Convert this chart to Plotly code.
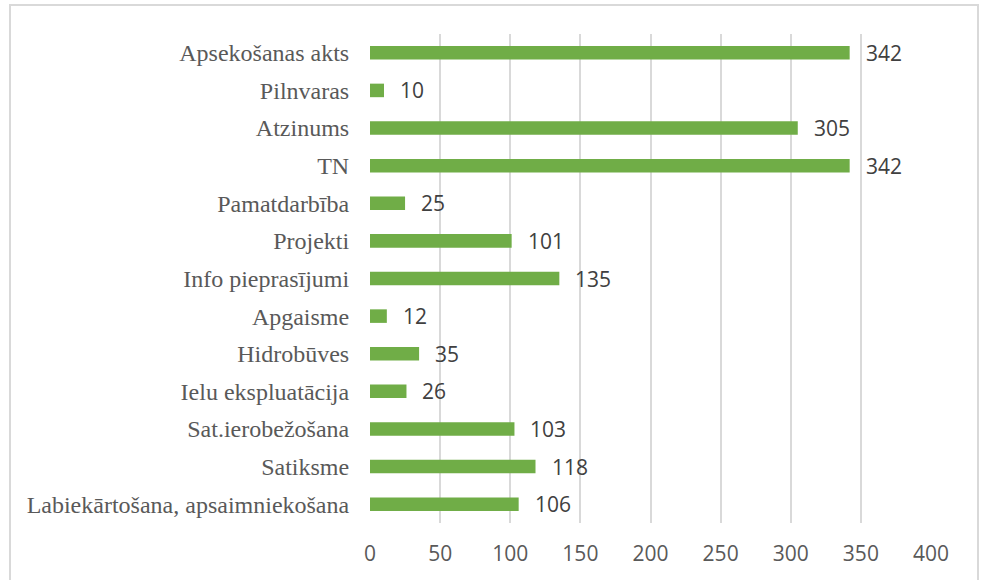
import plotly.graph_objects as go

categories = ["Apsekošanas akts", "Pilnvaras", "Atzinums", "TN", "Pamatdarbība",
              "Projekti", "Info pieprasījumi", "Apgaisme", "Hidrobūves",
              "Ielu ekspluatācija", "Sat.ierobežošana", "Satiksme",
              "Labiekārtošana, apsaimniekošana"]
values = [342, 10, 305, 342, 25, 101, 135, 12, 35, 26, 103, 118, 106]
tick_values = [0, 50, 100, 150, 200, 250, 300, 350, 400]

fig = go.Figure()
fig.add_trace(go.Bar(
    x=values, y=categories, orientation="h",
    marker=dict(color="#70AD47", line=dict(width=0)),
    width=0.36, hoverinfo="x+y",
))

for c, v in zip(categories, values):
    fig.add_annotation(x=v, y=c, text=str(v), showarrow=False,
                       xanchor="left", xshift=14,
                       font=dict(family="Open Sans", size=21, color="#404040"))

fig.update_layout(
    width=986, height=580,
    margin=dict(l=370, r=55, t=34, b=57, autoexpand=False),
    paper_bgcolor="white", plot_bgcolor="white",
    showlegend=False,
    bargap=0.64,
)
fig.update_xaxes(range=[0, 400], tickvals=tick_values, showgrid=True,
                 gridcolor="#D9D9D9", gridwidth=2, zeroline=False,
                 showline=False, ticks="outside", ticklen=12, tickcolor="rgba(0,0,0,0)",
                 tickfont=dict(family="Open Sans", size=21, color="#595959"))
fig.update_yaxes(categoryorder="array", categoryarray=categories[::-1],
                 showgrid=False, zeroline=False, showline=False,
                 ticks="outside", ticklen=15, tickcolor="rgba(0,0,0,0)",
                 tickfont=dict(family="Liberation Serif", size=24, color="#595959"))

fig.add_shape(type="rect", xref="paper", yref="paper",
              x0=(10 - 370) / 561, x1=(978 - 370) / 561,
              y0=-0.2, y1=1 + (34 - 5) / 489,
              line=dict(color="#D9D9D9", width=2), fillcolor="rgba(0,0,0,0)",
              layer="above")

fig.write_html(
    "out.html",
    config={"displayModeBar": False},
    post_script="document.body.style.margin='0';document.body.style.overflow='hidden';",
)
